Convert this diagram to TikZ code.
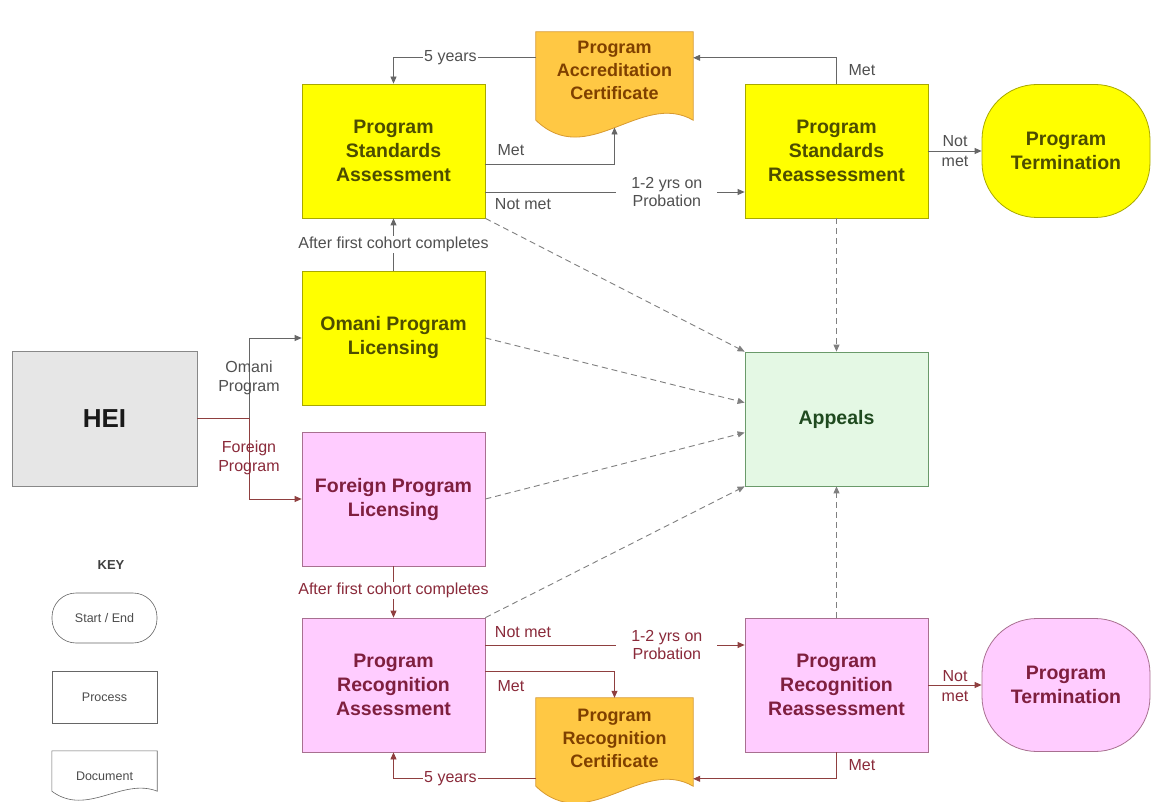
\documentclass[tikz,border=0pt]{standalone}
\usepackage{fontspec}
\setmainfont{Liberation Sans}
\usetikzlibrary{arrows.meta,calc}
\definecolor{ylw}{HTML}{FFFF00}
\definecolor{ylwborder}{HTML}{A8A800}
\definecolor{ylwtext}{HTML}{4D4D00}
\definecolor{pnk}{HTML}{FFCCFF}
\definecolor{pnkborder}{HTML}{A87090}
\definecolor{pnktext}{HTML}{7F1F3F}
\definecolor{cert}{HTML}{FFC844}
\definecolor{certborder}{HTML}{D89A30}
\definecolor{certtext}{HTML}{7F4000}
\definecolor{appfill}{HTML}{E4F8E4}
\definecolor{appborder}{HTML}{6A9A6A}
\definecolor{apptext}{HTML}{1F4A1F}
\definecolor{heifill}{HTML}{E6E6E6}
\definecolor{heiborder}{HTML}{888888}
\definecolor{gline}{HTML}{666666}
\definecolor{rline}{HTML}{8F3F3F}
\definecolor{gtext}{HTML}{505050}
\definecolor{rtext}{HTML}{8A2A3A}
\definecolor{dline}{HTML}{808080}
\begin{document}
\begin{tikzpicture}[x=1pt,y=-1pt,
  box/.style={draw, line width=0.8pt, minimum width=183pt, minimum height=134pt,
    inner sep=0pt, align=center, font=\fontsize{19.5}{24}\selectfont\bfseries},
  ybox/.style={box, fill=ylw, draw=ylwborder, text=ylwtext},
  pbox/.style={box, fill=pnk, draw=pnkborder, text=pnktext},
  term/.style={rounded corners=55pt, minimum width=168pt, minimum height=133pt},
  certshape/.style={minimum width=157pt, minimum height=88pt, inner sep=0pt},
  certdraw/.style={fill=cert, draw=certborder, line width=0.8pt},
  certlbl/.style={align=center, text=certtext, font=\fontsize{18}{23}\selectfont\bfseries},
  lbl/.style={font=\fontsize{16}{18.5}\selectfont, inner sep=1pt, align=center},
  glbl/.style={lbl, text=gtext},
  rlbl/.style={lbl, text=rtext},
  tip/.style={-{Triangle[length=7pt,width=6pt]}},
  garr/.style={draw=gline, line width=0.8pt, tip},
  rarr/.style={draw=rline, line width=0.8pt, tip},
  gplain/.style={draw=gline, line width=0.8pt},
  rplain/.style={draw=rline, line width=0.8pt},
  dasharr/.style={draw=dline, line width=0.9pt, dash pattern=on 6pt off 4pt, tip},
  keybox/.style={draw=black!60, line width=0.6pt, minimum width=105pt, inner sep=0pt,
    font=\fontsize{12.5}{14}\selectfont, text=black!70}
]
\useasboundingbox[fill=white] (0,0) rectangle (1152,802);

% main process boxes
\node[ybox] (psa) at (393.5,151) {Program\\Standards\\Assessment};
\node[ybox] (psr) at (836.5,151) {Program\\Standards\\Reassessment};
\node[ybox,term] (pt1) at (1066,151) {Program\\Termination};
\node[ybox] (opl) at (393.5,338) {Omani Program\\Licensing};
\node[pbox] (fpl) at (393.5,499) {Foreign Program\\Licensing};
\node[box, fill=heifill, draw=heiborder, minimum width=185pt, minimum height=135pt,
  font=\fontsize{26}{30}\selectfont\bfseries, text=black!90] (hei) at (104.5,418.5) {HEI};
\node[box, fill=appfill, draw=appborder, text=apptext] (app) at (836.5,419) {Appeals};
\node[pbox] (pra) at (393.5,685) {Program\\Recognition\\Assessment};
\node[pbox] (prr) at (836.5,685) {Program\\Recognition\\Reassessment};
\node[pbox,term] (pt2) at (1066,685) {Program\\Termination};

% certificates (document shapes)
\node[certshape] (pac) at (614.5,76) {};
\draw[certdraw] (pac.north west) -- (pac.north east) -- (pac.south east)
  .. controls ($(pac.south east)+(-52,-30)$) and ($(pac.south west)+(52,50)$) .. (pac.south west) -- cycle;
\node[certlbl] (pactext) at (614.5,70) {Program\\Accreditation\\Certificate};
\coordinate (pacin) at (614.5,127.5);

\node[certshape] (prc) at (614.5,742) {};
\draw[certdraw] (prc.north west) -- (prc.north east) -- (prc.south east)
  .. controls ($(prc.south east)+(-52,-30)$) and ($(prc.south west)+(52,50)$) .. (prc.south west) -- cycle;
\node[certlbl] (prctext) at (614.5,738) {Program\\Recognition\\Certificate};

% key
\node[font=\fontsize{13}{15}\selectfont\bfseries, text=black!75] (key) at (111,565) {KEY};
\node[keybox, rounded corners=24pt, minimum height=50pt] (kse) at (104.5,618) {Start / End};
\node[keybox, minimum height=52pt] (kpr) at (104.5,697) {Process};
\node[minimum width=105pt, minimum height=40pt, inner sep=0pt] (kdoc) at (104.5,771) {};
\draw[draw=black!60, line width=0.6pt] (kdoc.south west) -- (kdoc.north west) -- (kdoc.north east) -- (kdoc.south east)
  .. controls ($(kdoc.south east)+(-35,-14)$) and ($(kdoc.south west)+(35,26)$) .. (kdoc.south west);
\node[font=\fontsize{12.5}{14}\selectfont, text=black!70] (kdoctext) at (104.5,776) {Document};

% HEI split
\coordinate (split) at (249,418.5);
\draw[rplain] (hei.east) -- (split);
\draw[garr] (split) |- (opl.west);
\draw[rarr] (split) |- (fpl.west);
\node[glbl] (omlbl) at (249,378) {Omani\\Program};
\node[rlbl] (fplbl) at (249,458) {Foreign\\Program};

% licensing to assessment
\draw[garr] (opl.north) -- node[glbl, fill=white, pos=0.5] (cohort1) {After first cohort completes} (psa.south);
\draw[rarr] (fpl.south) -- node[rlbl, fill=white, pos=0.47] (cohort2) {After first cohort completes} (pra.north);

% top flows
\draw[garr] ($(psa.east)+(0,13)$) -| (pacin);
\node[glbl] (met1) at (511,150) {Met};
\draw[garr] ($(psa.east)+(0,41)$) -- node[glbl, fill=white, inner xsep=15pt, pos=0.7] (prob1) {1-2 yrs on\\Probation} ($(psr.west)+(0,41)$);
\node[glbl] (nm1) at (523,204) {Not met};
\draw[garr] (psr.north) |- ($(pac.north east)+(0,26)$);
\node[glbl] (met2) at (862,70) {Met};
\draw[garr] ($(pac.north west)+(0,26)$) -| node[glbl, fill=white, pos=0.3] (yrs1) {5 years} (psa.north);
\draw[garr] (psr.east) -- (pt1.west);
\node[glbl, font=\fontsize{16}{20}\selectfont] (nm2) at (955,151) {Not\\met};

% bottom flows
\draw[rarr] ($(pra.east)+(0,-40)$) -- node[rlbl, fill=white, inner xsep=15pt, pos=0.7] (prob2) {1-2 yrs on\\Probation} ($(prr.west)+(0,-40)$);
\node[rlbl] (nm3) at (523,632) {Not met};
\draw[rarr] ($(pra.east)+(0,-14)$) -| (prc.north);
\node[rlbl] (met3) at (511,686) {Met};
\draw[rarr] (prr.south) |- ($(prc.north east)+(0,81)$);
\node[rlbl] (met4) at (862,765) {Met};
\draw[rarr] ($(prc.north west)+(0,81)$) -| node[rlbl, fill=white, pos=0.3] (yrs2) {5 years} (pra.south);
\draw[rarr] (prr.east) -- (pt2.west);
\node[rlbl, font=\fontsize{16}{20}\selectfont] (nm4) at (955,686) {Not\\met};

% appeals
\draw[dasharr] (psa.south east) -- (app.north west);
\draw[dasharr] (opl.east) -- ($(app.north west)+(0,51)$);
\draw[dasharr] (fpl.east) -- ($(app.north west)+(0,81)$);
\draw[dasharr] (pra.north east) -- (app.south west);
\draw[dasharr] (psr.south) -- (app.north);
\draw[dasharr] (prr.north) -- (app.south);
\end{tikzpicture}
\end{document}
